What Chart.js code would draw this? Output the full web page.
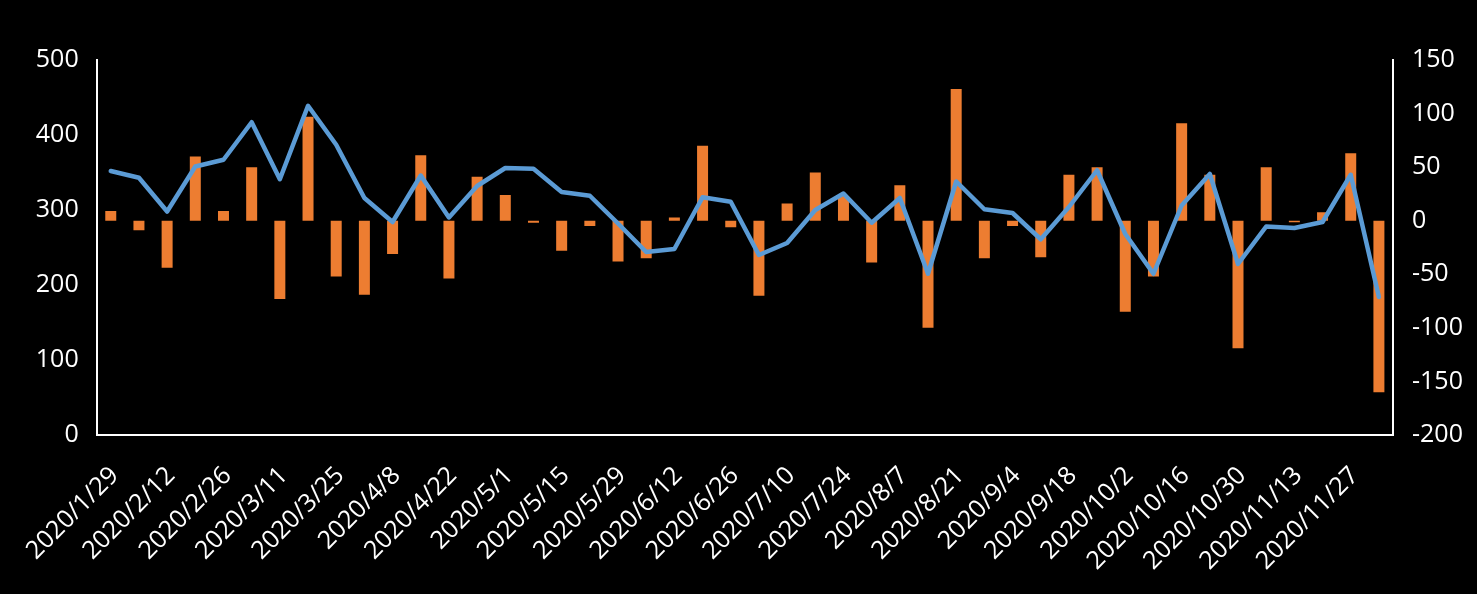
<!DOCTYPE html>
<html>
<head>
<meta charset="utf-8">
<script src="https://cdn.jsdelivr.net/npm/chart.js@4.4.1/dist/chart.umd.min.js"></script>
<style>
  html, body { margin: 0; padding: 0; background: #000; }
  #wrap { width: 1477px; height: 594px; }
</style>
</head>
<body>
<div id="wrap"><canvas id="c" width="1477" height="594"></canvas></div>
<script>
const categories = [
  "2020/1/29","2020/2/5","2020/2/12","2020/2/19","2020/2/26","2020/3/4","2020/3/11","2020/3/18",
  "2020/3/25","2020/4/1","2020/4/8","2020/4/15","2020/4/22","2020/4/29","2020/5/1","2020/5/8",
  "2020/5/15","2020/5/22","2020/5/29","2020/6/5","2020/6/12","2020/6/19","2020/6/26","2020/7/3",
  "2020/7/10","2020/7/17","2020/7/24","2020/7/31","2020/8/7","2020/8/14","2020/8/21","2020/8/28",
  "2020/9/4","2020/9/11","2020/9/18","2020/9/25","2020/10/2","2020/10/9","2020/10/16","2020/10/23",
  "2020/10/30","2020/11/6","2020/11/13","2020/11/20","2020/11/27","2020/12/4"
];
const lineValues = [
  352, 343, 298, 358, 367, 417, 341, 439, 387, 316, 284, 346, 290, 332, 356, 355,
  324, 319, 282, 244, 248, 317, 311, 240, 256, 300, 322, 283, 316, 215, 338, 301,
  296, 261, 304, 353, 268, 215, 306, 348, 228, 278, 276, 284, 347, 184
];
const barValues = [
  9, -9, -44, 60, 9, 50, -73, 97, -52, -69, -31, 61, -54, 41, 24, -2,
  -28, -5, -38, -35, 3, 70, -6, -70, 16, 45, 23, -39, 33, -100, 123, -35,
  -5, -34, 43, 50, -85, -52, 91, 43, -119, 50, -1.5, 8, 63, -160
];
const leftTicks = { min: 0, max: 500, step: 100 };
const rightTicks = { min: -200, max: 150, step: 50 };

const FONT = { family: "'Open Sans', sans-serif", size: 25 };

new Chart(document.getElementById('c'), {
  type: 'bar',
  data: {
    labels: categories,
    datasets: [
      {
        type: 'line',
        data: lineValues,
        yAxisID: 'y',
        borderColor: '#5B9BD5',
        backgroundColor: '#5B9BD5',
        borderWidth: 4.5,
        pointRadius: 0,
        tension: 0,
        borderJoinStyle: 'round',
        borderCapStyle: 'round',
        order: 0
      },
      {
        type: 'bar',
        data: barValues,
        yAxisID: 'y1',
        backgroundColor: '#ED7D31',
        borderWidth: 0,
        categoryPercentage: 1,
        barPercentage: 0.39,
        order: 1
      }
    ]
  },
  options: {
    responsive: false,
    animation: false,
    devicePixelRatio: 1,
    layout: { padding: { top: 60, left: 0, right: 0, bottom: 0 } },
    plugins: { legend: { display: false }, tooltip: { enabled: false } },
    scales: {
      x: {
        grid: { display: false, drawTicks: false },
        border: { display: true, color: '#ffffff', width: 2 },
        ticks: {
          color: '#ffffff',
          font: FONT,
          autoSkip: false,
          maxRotation: 45,
          minRotation: 45,
          padding: 26,
          labelOffset: 4,
          callback: function (v, i) { return i % 2 === 0 ? categories[i] : ''; }
        },
        afterFit: function (s) { s.height = 159; }
      },
      y: {
        position: 'left',
        min: leftTicks.min,
        max: leftTicks.max,
        grid: { display: false, drawTicks: false },
        border: { display: true, color: '#ffffff', width: 2 },
        ticks: { color: '#ffffff', font: FONT, stepSize: leftTicks.step, padding: 18 },
        afterFit: function (s) { s.width = 96; }
      },
      y1: {
        position: 'right',
        min: rightTicks.min,
        max: rightTicks.max,
        grid: { display: false, drawTicks: false },
        border: { display: true, color: '#ffffff', width: 2 },
        ticks: { color: '#ffffff', font: FONT, stepSize: rightTicks.step, padding: 19 },
        afterFit: function (s) { s.width = 84; }
      }
    }
  },
  plugins: [{
    id: 'bg',
    beforeDraw: function (chart) {
      const ctx = chart.ctx;
      ctx.save();
      ctx.fillStyle = '#000000';
      ctx.fillRect(0, 0, chart.width, chart.height);
      ctx.restore();
    }
  }]
});
</script>
</body>
</html>
